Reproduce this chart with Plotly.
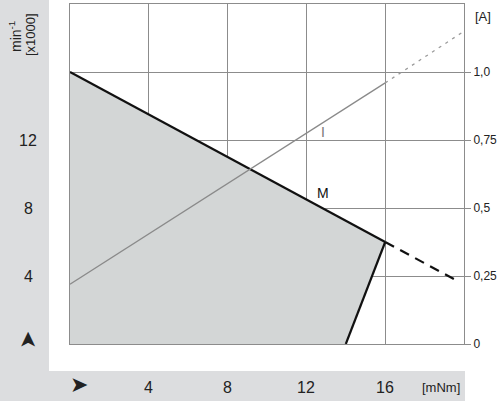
import plotly.graph_objects as go

# ---- data ----
grid_ticks = [0, 4, 8, 12, 16, 20]
torque_labels = [4, 8, 12, 16]
speed_labels = [4, 8, 12]

# speed curve M (x1000 min^-1) vs torque (mNm)
m_torque = [0, 16]
m_speed = [16, 6.0]
m_dash_torque = [16, 19.6]
m_dash_speed = [6.0, 3.75]
lim_torque = [16, 14]
lim_speed = [6.0, 0]

# operating region (shaded)
area_torque = [0, 0, 16, 14, 0]
area_speed = [0, 16, 6.0, 0, 0]

# current curve I (A) vs torque (mNm)
i_torque = [0, 16]
i_current = [0.22, 0.96]
i_dot_torque = [16, 19.9]
i_dot_current = [0.96, 1.145]

amp_ticks = [0, 0.25, 0.5, 0.75, 1.0]
amp_text = ["0", "0,25", "0,5", "0,75", "1,0"]

GRID = "#8c8c8c"
PANEL = "#dcdddf"
FILL = "#d3d6d6"
TXT = "#222222"
FONT = "Liberation Sans, Arial, sans-serif"

fig = go.Figure()

fig.add_trace(go.Scatter(x=area_torque, y=area_speed, fill="toself", fillcolor=FILL,
                         mode="none", hoverinfo="skip", showlegend=False))
fig.add_trace(go.Scatter(x=i_torque, y=i_current, yaxis="y2", mode="lines",
                         line=dict(color="#8a8a8a", width=1.3), showlegend=False))
fig.add_trace(go.Scatter(x=i_dot_torque, y=i_dot_current, yaxis="y2", mode="lines",
                         line=dict(color="#9a9a9a", width=1.3, dash="3px,5px"), showlegend=False))
fig.add_trace(go.Scatter(x=m_torque, y=m_speed, mode="lines",
                         line=dict(color="#111111", width=2.2), showlegend=False))
fig.add_trace(go.Scatter(x=m_dash_torque, y=m_dash_speed, mode="lines",
                         line=dict(color="#111111", width=2.2, dash="10px,7px"), showlegend=False))
fig.add_trace(go.Scatter(x=lim_torque, y=lim_speed, mode="lines",
                         line=dict(color="#111111", width=2.2), showlegend=False))

# gray side panels (paper coords, outside plot area)
L, R, T, B = 70, 36, 4, 57
W, H = 500 - L - R, 401 - T - B
def px(p):
    return (p - L) / W
def py(p):
    return (401 - B - p) / H

shapes = [
    dict(type="rect", xref="paper", yref="paper", x0=px(0), x1=px(49), y0=py(401), y1=py(0),
         fillcolor=PANEL, line=dict(width=0), layer="below"),
    dict(type="rect", xref="paper", yref="paper", x0=px(0), x1=px(465), y0=py(401), y1=py(371),
         fillcolor=PANEL, line=dict(width=0), layer="below"),
]

ann = []
for v in speed_labels:
    ann.append(dict(x=px(28), xref="paper", y=v, yref="y", text=str(v), showarrow=False,
                    font=dict(size=16, color=TXT, family=FONT), xanchor="center", yanchor="middle"))
for v in torque_labels:
    ann.append(dict(x=v, xref="x", y=py(387), yref="paper", text=str(v), showarrow=False,
                    font=dict(size=16, color=TXT, family=FONT), xanchor="center", yanchor="middle"))
ann += [
    dict(x=px(441), xref="paper", y=py(387), yref="paper", text="[mNm]", showarrow=False,
         font=dict(size=13, color=TXT, family=FONT), xanchor="center", yanchor="middle"),
    dict(x=px(483), xref="paper", y=py(17), yref="paper", text="[A]", showarrow=False,
         font=dict(size=13, color=TXT, family=FONT), xanchor="center", yanchor="middle"),
    dict(x=px(15), xref="paper", y=py(37), yref="paper", text="min<sup>-1</sup>", showarrow=False,
         textangle=-90, font=dict(size=14, color=TXT, family=FONT), xanchor="center", yanchor="middle"),
    dict(x=px(30), xref="paper", y=py(35), yref="paper", text="[x1000]", showarrow=False,
         textangle=-90, font=dict(size=13, color=TXT, family=FONT), xanchor="center", yanchor="middle"),
    dict(x=px(27), xref="paper", y=py(340), yref="paper", text="➤", showarrow=False,
         textangle=-90, font=dict(size=22, color=TXT, family="DejaVu Sans"), xanchor="center", yanchor="middle"),
    dict(x=px(79), xref="paper", y=py(384), yref="paper", text="➤", showarrow=False,
         font=dict(size=22, color=TXT, family="DejaVu Sans"), xanchor="center", yanchor="middle"),
    dict(x=12.82, y=8.88, xref="x", yref="y", text="M", showarrow=False,
         font=dict(size=14, color="#111111", family=FONT), xanchor="center", yanchor="middle"),
    dict(x=12.85, y=12.47, xref="x", yref="y", text="I", showarrow=False,
         font=dict(size=14, color="#777777", family=FONT), xanchor="center", yanchor="middle"),
]

fig.update_layout(
    width=500, height=401,
    margin=dict(l=L, r=R, t=T, b=B, pad=0),
    paper_bgcolor="white", plot_bgcolor="white",
    showlegend=False,
    xaxis=dict(range=[0, 20], tickvals=grid_ticks, showticklabels=False, ticks="",
               showgrid=True, gridcolor=GRID, gridwidth=1, zeroline=False,
               showline=True, linecolor=GRID, linewidth=1, mirror=True, fixedrange=True),
    yaxis=dict(range=[0, 20], tickvals=grid_ticks, showticklabels=False, ticks="",
               showgrid=True, gridcolor=GRID, gridwidth=1, zeroline=False,
               showline=True, linecolor=GRID, linewidth=1, mirror=True, fixedrange=True),
    yaxis2=dict(range=[0, 1.25], overlaying="y", side="right", tickvals=amp_ticks, ticktext=amp_text,
                ticks="outside", ticklen=6, tickcolor=GRID, showgrid=False, zeroline=False,
                showline=False, tickfont=dict(size=12, color=TXT, family=FONT), fixedrange=True),
    shapes=shapes,
    annotations=ann,
)

fig.write_html("out.html", config={"displayModeBar": False},
               post_script="document.body.style.margin='0';document.body.style.overflow='hidden';")
